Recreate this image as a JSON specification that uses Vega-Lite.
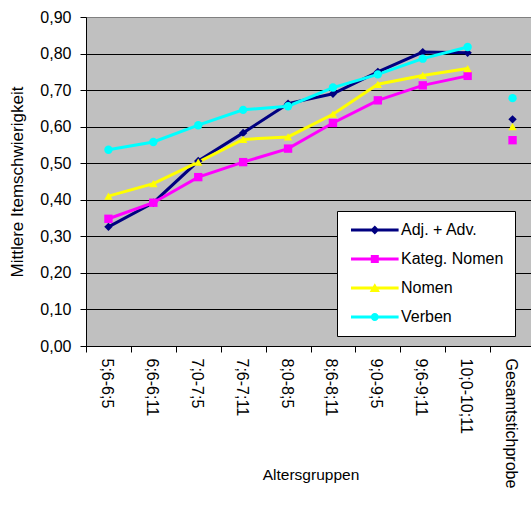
{
  "$schema": "https://vega.github.io/schema/vega-lite/v6.json",
  "autosize": "none",
  "width": 449,
  "height": 329,
  "padding": {"left": 86, "top": 17, "right": 0, "bottom": 159},
  "background": "#FFFFFF",
  "config": {
    "font": "Liberation Sans",
    "view": {"fill": "#C0C0C0", "stroke": "#808080", "strokeWidth": 1},
    "axis": {
      "domainColor": "#000000",
      "tickColor": "#000000",
      "labelColor": "#000000",
      "titleColor": "#000000",
      "titleFontWeight": "normal",
      "labelFont": "Liberation Sans",
      "titleFont": "Liberation Sans",
      "tickSize": 6,
      "domainWidth": 1,
      "tickWidth": 1
    }
  },
  "data": {
    "values": [
      {"age": "5;6-6;5", "series": "Adj. + Adv.", "v": 0.326},
      {"age": "6;6-6;11", "series": "Adj. + Adv.", "v": 0.392},
      {"age": "7;0-7;5", "series": "Adj. + Adv.", "v": 0.506},
      {"age": "7;6-7;11", "series": "Adj. + Adv.", "v": 0.583},
      {"age": "8;0-8;5", "series": "Adj. + Adv.", "v": 0.663},
      {"age": "8;6-8;11", "series": "Adj. + Adv.", "v": 0.69},
      {"age": "9;0-9;5", "series": "Adj. + Adv.", "v": 0.75},
      {"age": "9;6-9;11", "series": "Adj. + Adv.", "v": 0.804},
      {"age": "10;0-10;11", "series": "Adj. + Adv.", "v": 0.802},
      {"age": "Gesamtstichprobe", "series": "Adj. + Adv.", "v": 0.62},
      {"age": "5;6-6;5", "series": "Kateg. Nomen", "v": 0.348},
      {"age": "6;6-6;11", "series": "Kateg. Nomen", "v": 0.392},
      {"age": "7;0-7;5", "series": "Kateg. Nomen", "v": 0.462},
      {"age": "7;6-7;11", "series": "Kateg. Nomen", "v": 0.503},
      {"age": "8;0-8;5", "series": "Kateg. Nomen", "v": 0.54},
      {"age": "8;6-8;11", "series": "Kateg. Nomen", "v": 0.61},
      {"age": "9;0-9;5", "series": "Kateg. Nomen", "v": 0.672},
      {"age": "9;6-9;11", "series": "Kateg. Nomen", "v": 0.713},
      {"age": "10;0-10;11", "series": "Kateg. Nomen", "v": 0.739},
      {"age": "Gesamtstichprobe", "series": "Kateg. Nomen", "v": 0.563},
      {"age": "5;6-6;5", "series": "Nomen", "v": 0.41},
      {"age": "6;6-6;11", "series": "Nomen", "v": 0.444},
      {"age": "7;0-7;5", "series": "Nomen", "v": 0.503},
      {"age": "7;6-7;11", "series": "Nomen", "v": 0.565},
      {"age": "8;0-8;5", "series": "Nomen", "v": 0.572},
      {"age": "8;6-8;11", "series": "Nomen", "v": 0.634},
      {"age": "9;0-9;5", "series": "Nomen", "v": 0.716},
      {"age": "9;6-9;11", "series": "Nomen", "v": 0.74},
      {"age": "10;0-10;11", "series": "Nomen", "v": 0.759},
      {"age": "Gesamtstichprobe", "series": "Nomen", "v": 0.6},
      {"age": "5;6-6;5", "series": "Verben", "v": 0.537},
      {"age": "6;6-6;11", "series": "Verben", "v": 0.558},
      {"age": "7;0-7;5", "series": "Verben", "v": 0.604},
      {"age": "7;6-7;11", "series": "Verben", "v": 0.646},
      {"age": "8;0-8;5", "series": "Verben", "v": 0.656},
      {"age": "8;6-8;11", "series": "Verben", "v": 0.707},
      {"age": "9;0-9;5", "series": "Verben", "v": 0.743},
      {"age": "9;6-9;11", "series": "Verben", "v": 0.786},
      {"age": "10;0-10;11", "series": "Verben", "v": 0.818},
      {"age": "Gesamtstichprobe", "series": "Verben", "v": 0.678}
    ]
  },
  "encoding": {
    "x": {
      "field": "age",
      "type": "nominal",
      "bandPosition": 0.5,
      "scale": {
        "type": "band",
        "paddingInner": 0,
        "paddingOuter": 0,
        "domain": ["5;6-6;5", "6;6-6;11", "7;0-7;5", "7;6-7;11", "8;0-8;5", "8;6-8;11", "9;0-9;5", "9;6-9;11", "10;0-10;11", "Gesamtstichprobe"]
      },
      "axis": {
        "title": "Altersgruppen",
        "titleFontSize": 15.5,
        "titleY": 133,
        "titleBaseline": "alphabetic",
        "labelFontSize": 16,
        "labelAngle": 90,
        "labelAlign": "left",
        "labelBaseline": "middle",
        "labelPadding": 6,
        "labelOffset": -2,
        "tickBand": "extent",
        "grid": false
      }
    },
    "y": {
      "field": "v",
      "type": "quantitative",
      "scale": {"domain": [0, 0.9], "nice": false, "zero": true},
      "axis": {
        "title": "Mittlere Itemschwierigkeit",
        "titleFontSize": 17,
        "titlePadding": 13,
        "labelFontSize": 16,
        "labelPadding": 9,
        "values": [0, 0.1, 0.2, 0.3, 0.4, 0.5, 0.6, 0.7, 0.8, 0.9],
        "labelExpr": "replace(format(datum.value, '.2f'), '.', ',')",
        "grid": true,
        "gridColor": {"condition": {"test": "datum.value >= 0.89", "value": "#808080"}, "value": "#000000"},
        "gridWidth": 1
      }
    }
  },
  "layer": [
    {
      "transform": [{"filter": "datum.age !== 'Gesamtstichprobe'"}],
      "mark": {"type": "line", "strokeWidth": 3},
      "encoding": {
        "color": {
          "field": "series",
          "type": "nominal",
          "scale": {"domain": ["Adj. + Adv.", "Kateg. Nomen", "Nomen", "Verben"], "range": ["#000080", "#FF00FF", "#FFFF00", "#00FFFF"]},
          "legend": null
        }
      }
    },
    {
      "mark": {"type": "point", "filled": true, "size": 70, "opacity": 1},
      "encoding": {
        "color": {
          "field": "series",
          "type": "nominal",
          "scale": {"domain": ["Adj. + Adv.", "Kateg. Nomen", "Nomen", "Verben"], "range": ["#000080", "#FF00FF", "#FFFF00", "#00FFFF"]},
          "legend": null
        },
        "shape": {
          "field": "series",
          "type": "nominal",
          "scale": {"domain": ["Adj. + Adv.", "Kateg. Nomen", "Nomen", "Verben"], "range": ["diamond", "square", "triangle-up", "circle"]},
          "legend": null
        }
      }
    },
    {
      "mark": {"type": "point", "filled": true, "opacity": 0, "size": 256},
      "encoding": {
        "color": {
          "field": "series",
          "type": "nominal",
          "scale": {"domain": ["Adj. + Adv.", "Kateg. Nomen", "Nomen", "Verben"], "range": ["#000080", "#FF00FF", "#FFFF00", "#00FFFF"]},
          "legend": {
            "title": null,
            "orient": "none",
            "legendX": 251,
            "legendY": 194,
            "fillColor": "#FFFFFF",
            "strokeColor": "#000000",
            "padding": 11,
            "labelFontSize": 16,
            "labelFont": "Liberation Sans",
            "labelColor": "#000000",
            "labelOffset": 37,
            "symbolSize": 256,
            "symbolOpacity": 1,
            "symbolStrokeWidth": 0,
            "rowPadding": 13
          }
        },
        "shape": {
          "field": "series",
          "type": "nominal",
          "scale": {
            "domain": ["Adj. + Adv.", "Kateg. Nomen", "Nomen", "Verben"],
            "range": [
              "M-0.625,-0.1875H5.325V0.1875H-0.625ZM2.35,-0.56L2.91,0L2.35,0.56L1.79,0Z",
              "M-0.625,-0.1875H5.325V0.1875H-0.625ZM1.85,-0.5H2.85V0.5H1.85Z",
              "M-0.625,-0.1875H5.325V0.1875H-0.625ZM2.35,-0.6L2.99,0.5H1.71Z",
              "M-0.625,-0.1875H5.325V0.1875H-0.625ZM1.85,0A0.5,0.5 0 1,1 2.85,0A0.5,0.5 0 1,1 1.85,0Z"
            ]
          },
          "legend": {
            "title": null,
            "orient": "none",
            "legendX": 251,
            "legendY": 194,
            "fillColor": "#FFFFFF",
            "strokeColor": "#000000",
            "padding": 11,
            "labelFontSize": 16,
            "labelFont": "Liberation Sans",
            "labelColor": "#000000",
            "labelOffset": 37,
            "symbolSize": 256,
            "symbolOpacity": 1,
            "symbolStrokeWidth": 0,
            "rowPadding": 13
          }
        }
      }
    }
  ],
  "resolve": {
    "scale": {"color": "independent", "shape": "independent"},
    "legend": {"color": "independent", "shape": "independent"}
  }
}
